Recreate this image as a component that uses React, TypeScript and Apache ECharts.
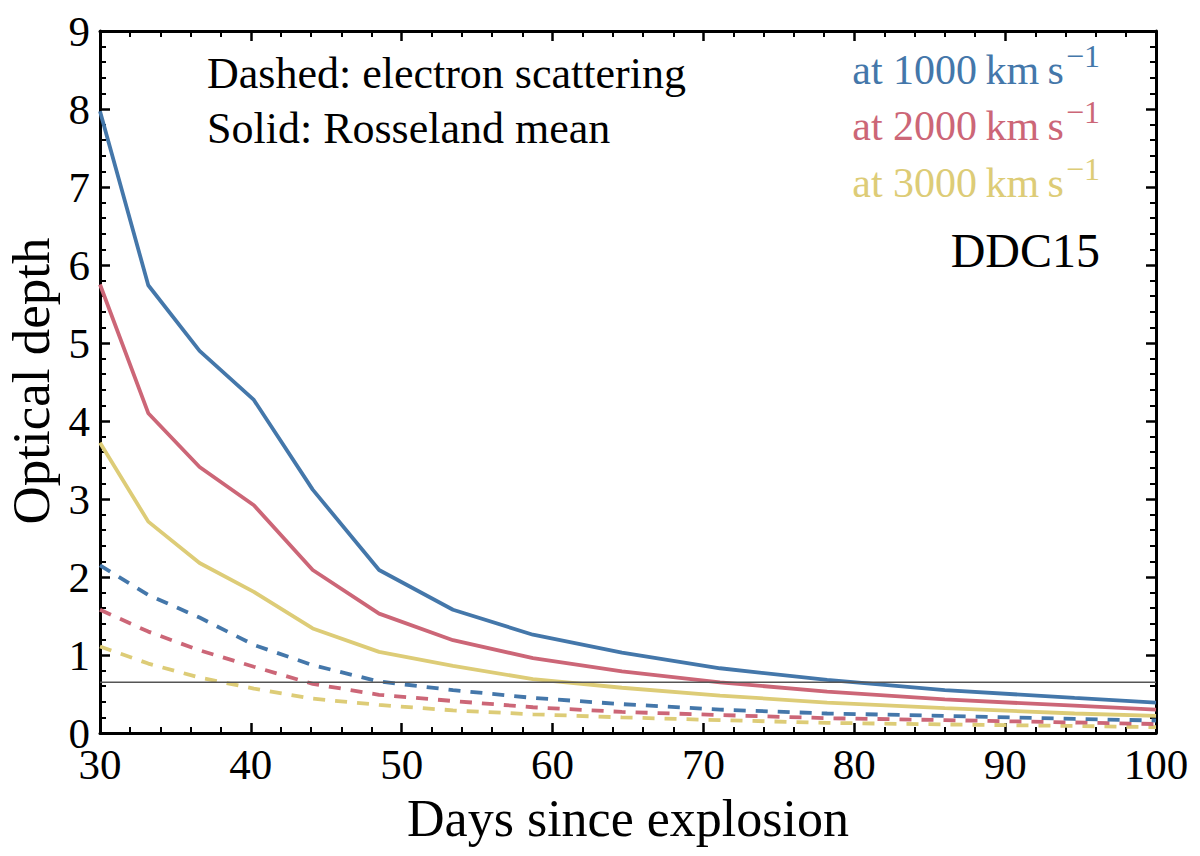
import { useEffect, useRef } from "react";
import * as echarts from "echarts";

// days since explosion (vertices of the model curves)
const days = [30, 33.2, 36.6, 40.2, 44.1, 48.5, 53.4, 58.7, 64.6, 71.1, 78.2, 86.0, 94.6, 100];

// Rosseland mean optical depth (solid)
const rosseland1000 = [7.97, 5.74, 4.9, 4.27, 3.12, 2.09, 1.58, 1.26, 1.03, 0.83, 0.68, 0.55, 0.45, 0.39];
const rosseland2000 = [5.75, 4.1, 3.41, 2.92, 2.09, 1.53, 1.19, 0.96, 0.79, 0.65, 0.53, 0.43, 0.35, 0.3];
const rosseland3000 = [3.72, 2.71, 2.18, 1.81, 1.34, 1.04, 0.86, 0.69, 0.58, 0.48, 0.39, 0.32, 0.25, 0.22];

// electron scattering optical depth (dashed)
const electron1000 = [2.15, 1.77, 1.48, 1.13, 0.87, 0.66, 0.55, 0.45, 0.37, 0.3, 0.25, 0.22, 0.18, 0.16];
const electron2000 = [1.58, 1.3, 1.06, 0.85, 0.63, 0.49, 0.41, 0.33, 0.27, 0.23, 0.19, 0.165, 0.135, 0.115];
const electron3000 = [1.11, 0.89, 0.71, 0.57, 0.44, 0.36, 0.29, 0.24, 0.2, 0.165, 0.13, 0.11, 0.09, 0.075];

const velocities = ["1000", "2000", "3000"];
const thresholdTau = 0.65;

const BLUE = "#4477AA";
const RED = "#CC6677";
const YELLOW = "#DDCC77";
const FONT = "'Liberation Serif', 'DejaVu Serif', serif";

const pair = (ys: number[]) => days.map((d, i) => [d, ys[i]]);

export default function App() {
    const chartRef = useRef<HTMLDivElement | null>(null);

    useEffect(() => {
        if (!chartRef.current) return;
        const chart = echarts.init(chartRef.current, undefined, { renderer: "svg" });

        const tick = (show: boolean, margin = 8) => ({
            axisLine: { show: true, onZero: false, lineStyle: { color: "#000", width: 3 } },
            axisTick: { show: true, inside: true, length: 10, lineStyle: { color: "#000", width: 2.5 } },
            minorTick: { show: true, splitNumber: 5, length: 6, lineStyle: { color: "#000", width: 2 } },
            splitLine: { show: false },
            axisLabel: {
                show,
                margin,
                color: "#000",
                fontFamily: FONT,
                fontSize: 43,
                lineHeight: 28,
            },
        });

        const solid = (name: string, ys: number[], color: string) => ({
            name,
            type: "line",
            data: pair(ys),
            symbol: "none",
            lineStyle: { color, width: 3.8 },
        });
        const dashed = (name: string, ys: number[], color: string) => ({
            name,
            type: "line",
            data: pair(ys),
            symbol: "none",
            lineStyle: { color, width: 3.8, type: [12, 10] },
        });

        const velocityLabel = (v: string, y: number, color: string) => ({
            type: "text",
            x: 1100,
            y,
            style: {
                text: `{n|at ${v}\u2009km\u2009s}{s|\u22121}`,
                align: "right",
                verticalAlign: "middle",
                fill: color,
                rich: {
                    n: { fontFamily: FONT, fontSize: 42, lineHeight: 42, verticalAlign: "bottom", fill: color },
                    s: { fontFamily: FONT, fontSize: 32, lineHeight: 32, verticalAlign: "bottom", padding: [0, 0, 19, 2], fill: color },
                },
            },
        });

        const option: any = {
            animation: false,
            backgroundColor: "#fff",
            grid: { left: 100, right: 44, top: 31, bottom: 123, containLabel: false },
            xAxis: [
                { type: "value", min: 30, max: 100, interval: 10, position: "bottom", ...tick(true, 17) },
                { type: "value", min: 30, max: 100, interval: 10, position: "top", ...tick(false) },
            ],
            yAxis: [
                { type: "value", min: 0, max: 9, interval: 1, position: "left", ...tick(true, 10) },
                { type: "value", min: 0, max: 9, interval: 1, position: "right", ...tick(false) },
            ],
            series: [
                dashed(`e- ${velocities[2]}`, electron3000, YELLOW),
                dashed(`e- ${velocities[1]}`, electron2000, RED),
                dashed(`e- ${velocities[0]}`, electron1000, BLUE),
                solid(`Ross ${velocities[2]}`, rosseland3000, YELLOW),
                solid(`Ross ${velocities[1]}`, rosseland2000, RED),
                solid(`Ross ${velocities[0]}`, rosseland1000, BLUE),
                {
                    name: "threshold",
                    type: "line",
                    data: [[30, thresholdTau], [100, thresholdTau]],
                    symbol: "none",
                    lineStyle: { color: "#555", width: 1.6 },
                },
            ],
            graphic: [
                {
                    type: "text",
                    x: 31,
                    y: 381,
                    rotation: Math.PI / 2,
                    style: { text: "Optical depth", font: `53px ${FONT}`, fill: "#000", align: "center", verticalAlign: "middle" },
                },
                {
                    type: "text",
                    x: 628,
                    y: 818,
                    style: { text: "Days since explosion", font: `52px ${FONT}`, fill: "#000", align: "center", verticalAlign: "middle" },
                },
                {
                    type: "text",
                    x: 207,
                    y: 73,
                    style: { text: "Dashed: electron scattering", font: `44px ${FONT}`, fill: "#000", align: "left", verticalAlign: "middle" },
                },
                {
                    type: "text",
                    x: 207,
                    y: 128,
                    style: { text: "Solid: Rosseland mean", font: `44px ${FONT}`, fill: "#000", align: "left", verticalAlign: "middle" },
                },
                velocityLabel(velocities[0], 70, BLUE),
                velocityLabel(velocities[1], 126, RED),
                velocityLabel(velocities[2], 183, YELLOW),
                {
                    type: "text",
                    x: 1100,
                    y: 250,
                    style: { text: "DDC15", font: `48px ${FONT}`, fill: "#000", align: "right", verticalAlign: "middle" },
                },
            ],
        };

        chart.setOption(option);
        return () => chart.dispose();
    }, []);

    return <div ref={chartRef} style={{ position: "fixed", left: 0, top: 0, width: 1200, height: 856 }} />;
}
